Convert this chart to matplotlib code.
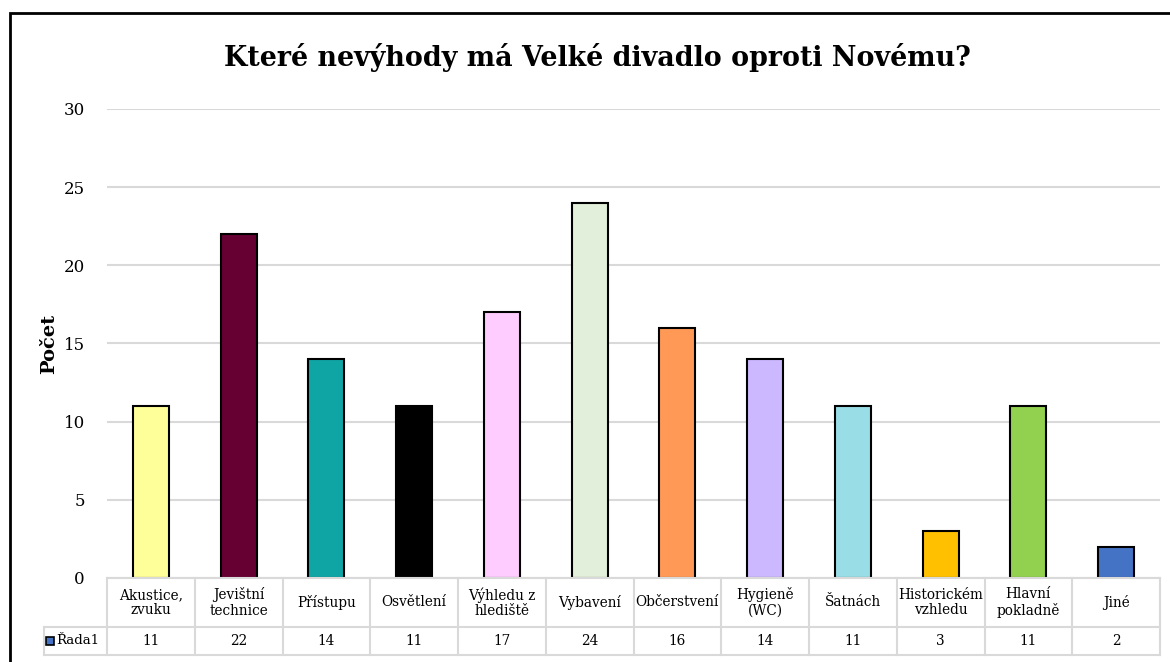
import matplotlib
matplotlib.use("Agg")
import matplotlib.pyplot as plt
from matplotlib.patches import Rectangle
from matplotlib.lines import Line2D

plt.rcParams['font.family'] = ['DejaVu Serif']

categories = ["Akustice,\nzvuku", "Jevištní\ntechnice", "Přístupu", "Osvětlení",
              "Výhledu z\nhlediště", "Vybavení", "Občerstvení", "Hygieně\n(WC)",
              "Šatnách", "Historickém\nvzhledu", "Hlavní\npokladně", "Jiné"]
values = [11, 22, 14, 11, 17, 24, 16, 14, 11, 3, 11, 2]
colors = ["#FFFF99", "#660033", "#10A5A5", "#000000", "#FFCCFF", "#E2EFDA",
          "#FF9955", "#CCB8FF", "#99DDE6", "#FFC000", "#92D050", "#4472C4"]
series_name = "Řada1"
yticks = [0, 5, 10, 15, 20, 25, 30]

W, H = 1170, 662
fig = plt.figure(figsize=(W / 100, H / 100), dpi=100)

# outer frame
fig.add_artist(Rectangle((10 / W, -0.1), 1.2, 1 - 13 / H + 0.1, transform=fig.transFigure,
                         fill=False, edgecolor="black", linewidth=2))

ax_l, ax_r, ax_b, ax_t = 107, 1160, 578, 109
ax = fig.add_axes([ax_l / W, 1 - ax_b / H, (ax_r - ax_l) / W, (ax_b - ax_t) / H])
n = len(values)
x = list(range(n))
ax.bar(x, values, width=0.41, color=colors, edgecolor="black", linewidth=1.5, zorder=3)
ax.set_xlim(-0.5, n - 0.5)
ax.set_ylim(0, 30)
ax.set_yticks(yticks)
ax.set_yticklabels([str(t) for t in yticks], fontsize=12)
ax.tick_params(axis="y", length=0, pad=16)
ax.set_xticks([])
ax.grid(axis="y", color="#D9D9D9", linewidth=1.5, zorder=0)
for s in ax.spines.values():
    s.set_visible(False)
ax.set_ylabel("Počet", fontsize=14, fontweight="bold", labelpad=4)

fig.text(597 / W, 1 - 57 / H, "Které nevýhody má Velké divadlo oproti Novému?",
         ha="center", va="center", fontsize=19.4, fontweight="bold")

# data table below the axes
def fx(px):
    return px / W
def fy(py):
    return 1 - py / H

grid_c = "#D9D9D9"
r0, r1, r2 = 578, 627, 655
leg_l = 44
colw = (ax_r - ax_l) / n
lines = [
    ((ax_l, ax_r), (r0, r0)),
    ((leg_l, ax_r), (r1, r1)),
    ((leg_l, ax_r), (r2, r2)),
    ((leg_l, leg_l), (r1, r2)),
]
for i in range(n + 1):
    xp = ax_l + i * colw
    lines.append(((xp, xp), (r0, r2)))
for (xs, ys) in lines:
    fig.add_artist(Line2D([fx(v) for v in xs], [fy(v) for v in ys],
                          color=grid_c, linewidth=1.5, transform=fig.transFigure))

for i in range(n):
    cx = fx(ax_l + (i + 0.5) * colw)
    fig.text(cx, fy((r0 + r1) / 2), categories[i], ha="center", va="center",
             fontsize=9.8, linespacing=1.1)
    fig.text(cx, fy((r1 + r2) / 2), str(values[i]), ha="center", va="center", fontsize=9.8)

fig.add_artist(Rectangle((fx(46), fy(645)), 8 / W, 8 / H, transform=fig.transFigure,
                         facecolor="#4472C4", edgecolor="black", linewidth=1.2))
fig.text(fx(56), fy((r1 + r2) / 2), series_name, ha="left", va="center", fontsize=9.5)

fig.savefig("out.png", dpi=100)
